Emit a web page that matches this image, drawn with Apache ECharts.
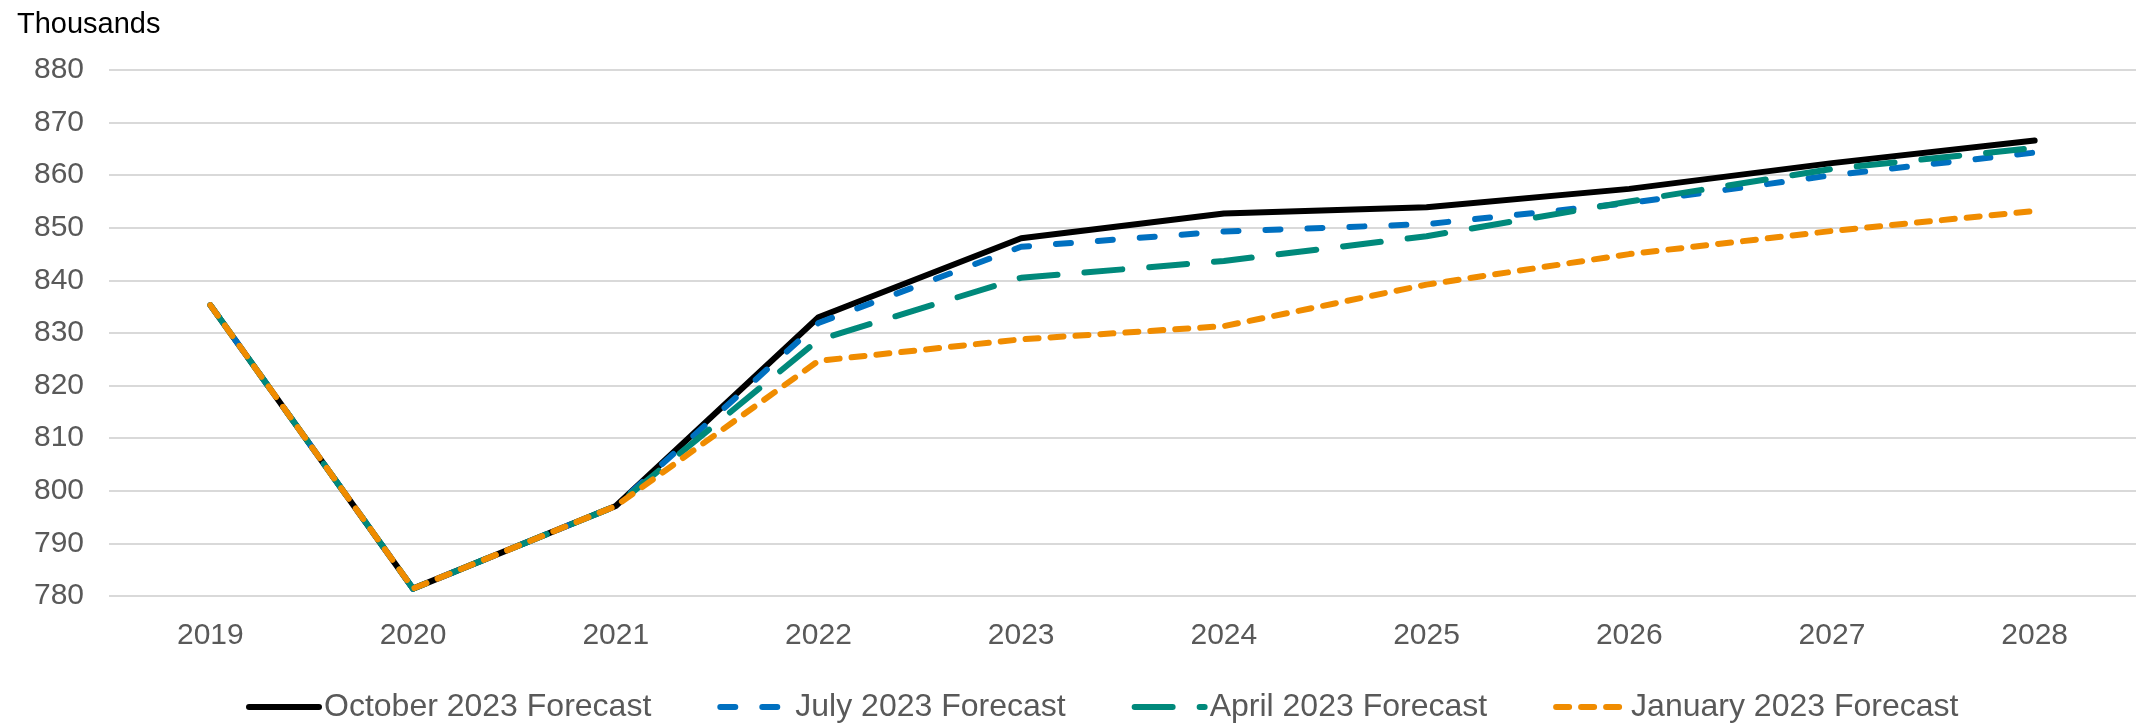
<!DOCTYPE html>
<html>
<head>
<meta charset="utf-8">
<title>Forecast comparison</title>
<script src="https://cdn.jsdelivr.net/npm/echarts@6/dist/echarts.min.js"></script>
<style>
  html, body { margin: 0; padding: 0; background: #ffffff; }
  #chart { width: 2136px; height: 724px; }
</style>
</head>
<body>
<div id="chart"></div>
<script>
// Years on the category axis
const years = ['2019', '2020', '2021', '2022', '2023', '2024', '2025', '2026', '2027', '2028'];

// Forecast vintages, values in thousands
const october2023 = [835.3, 781.4, 797.1, 833.0, 848.0, 852.7, 853.9, 857.4, 862.3, 866.6];
const july2023    = [835.3, 781.4, 797.1, 831.9, 846.4, 849.3, 850.7, 854.7, 860.0, 864.3];
const april2023   = [835.3, 781.4, 797.1, 828.7, 840.5, 843.7, 848.4, 855.0, 861.2, 865.2];
const january2023 = [835.3, 781.4, 797.1, 824.7, 828.8, 831.3, 839.2, 845.0, 849.4, 853.2];

// Value axis range
const yMin = 780;
const yMax = 880;
const yStep = 10;

const seriesNames = ['October 2023 Forecast', 'July 2023 Forecast', 'April 2023 Forecast', 'January 2023 Forecast'];

const FONT = '"Liberation Sans", Arial, sans-serif';
const LINE_W = 6;

function lineSeries(name, data, color, dash) {
  return {
    name: name,
    type: 'line',
    data: data,
    symbol: 'none',
    smooth: false,
    lineStyle: {
      color: color,
      width: LINE_W,
      type: dash || 'solid',
      cap: 'round',
      join: 'round'
    },
    itemStyle: { color: color },
    emphasis: { disabled: true }
  };
}

const chart = echarts.init(document.getElementById('chart'), null, { renderer: 'canvas' });

chart.setOption({
  animation: false,
  backgroundColor: '#ffffff',
  title: {
    text: 'Thousands',
    left: 12,
    top: 5,
    textStyle: { fontFamily: FONT, fontSize: 29, fontWeight: 'normal', color: '#000000' }
  },
  grid: { left: 109, right: 0, top: 70, bottom: 128, containLabel: false },
  legend: {
    left: 241,
    top: 686,
    itemWidth: 70,
    itemHeight: 30,
    itemGap: 66,
    data: seriesNames,
    // keep only the line sample in each legend key
    itemStyle: { opacity: 0 },
    lineStyle: { width: LINE_W, cap: 'round' },
    textStyle: { fontFamily: FONT, fontSize: 32, color: '#595959' }
  },
  xAxis: {
    type: 'category',
    data: years,
    boundaryGap: true,
    axisLine: { show: false },
    axisTick: { show: false },
    axisLabel: { margin: 25, fontFamily: FONT, fontSize: 30, color: '#595959' }
  },
  yAxis: {
    type: 'value',
    min: yMin,
    max: yMax,
    interval: yStep,
    axisLine: { show: false },
    axisTick: { show: false },
    splitLine: { lineStyle: { color: '#d9d9d9', width: 2 } },
    axisLabel: { margin: 25, fontFamily: FONT, fontSize: 30, color: '#595959' }
  },
  series: [
    lineSeries(seriesNames[0], october2023, '#000000', 'solid'),
    lineSeries(seriesNames[1], july2023, '#0070C0', [15, 27]),
    lineSeries(seriesNames[2], april2023, '#00897B', [38, 27]),
    lineSeries(seriesNames[3], january2023, '#F08C00', [13, 12])
  ]
});
</script>
</body>
</html>
